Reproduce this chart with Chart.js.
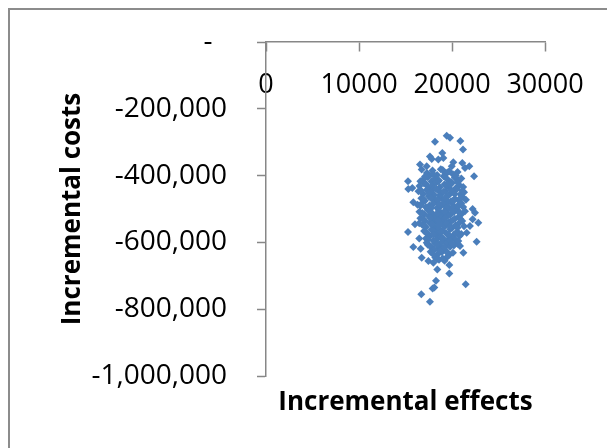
<!DOCTYPE html>
<html>
<head>
<meta charset="utf-8">
<script src="https://cdn.jsdelivr.net/npm/chart.js@4.4.1/dist/chart.umd.min.js"></script>
<style>
  html, body { margin: 0; padding: 0; background: #fff; }
  canvas { display: block; }
</style>
</head>
<body>
<canvas id="ceChart" width="607" height="448"></canvas>
<script>
// ── Data ────────────────────────────────────────────────────

const xTicks = [0, 10000, 20000, 30000];
const yTicks = [0, -200000, -400000, -600000, -800000, -1000000];

// simulated pairs: incremental effects (x) and incremental costs (y)
const effects = [
  17300, 17900, 18400, 18800, 19300, 19700, 20100, 20600, 17600, 19000,
  16900, 17400, 17800, 18200, 18600, 19100, 19500, 19900, 20300, 20700, 21000, 16600,
  16500, 17000, 17500, 17900, 18300, 18700, 19200, 19600, 20000, 20400, 20800, 21200, 18000, 19400,
  16400, 16900, 17300, 17700, 18100, 18500, 18900, 19300, 19700, 20100, 20500, 20900, 21300, 18700, 19900,
  16700, 17100, 17500, 17900, 18300, 18700, 19100, 19500, 19900, 20300, 20700, 21100, 21500, 18000, 19600,
  16300, 16800, 17200, 17600, 18000, 18400, 18800, 19200, 19600, 20000, 20400, 20800, 21200, 17400, 19000, 20200,
  16500, 17000, 17400, 17800, 18200, 18600, 19000, 19400, 19800, 20200, 20600, 21000, 21400, 18900, 19500,
  16600, 17100, 17500, 17900, 18300, 18700, 19100, 19500, 19900, 20300, 20700, 21100, 18100, 19700,
  16800, 17200, 17600, 18000, 18400, 18800, 19200, 19600, 20000, 20400, 20800, 21300, 18600, 19400,
  17000, 17400, 17800, 18200, 18600, 19000, 19400, 19800, 20200, 20600, 21000, 18300,
  17200, 17600, 18000, 18400, 18800, 19200, 19600, 20000, 20400, 20800, 18900,
  17400, 17800, 18200, 18600, 19000, 19400, 19800, 20200, 20600, 18500,
  17700, 18100, 18500, 18900, 19300, 19700, 20100, 19000,
  18200, 18600, 19000, 19500,
  // more of the dense core
  17100, 18000, 19500, 20400, 17200, 18500, 19800, 20600,
  16700, 17500, 18300, 19100, 20300, 21100, 16900, 17700, 18500, 19300, 20100, 20900,
  16600, 17800, 18600, 19400, 20600, 21000, 16800, 17600, 18400, 19200, 20000, 20800,
  16900, 17700, 18500, 19300, 20100, 20900, 17000, 17800, 18600, 19800, 20600,
  17200, 18000, 18800, 19600, 20400, 17400, 18200, 19000, 19800,
  17600, 18400, 19200, 20000, 17900, 18700, 19500, 18400, 19200,
  // edge / outlying points
  19430, 19785, 18170, 20900, 21180, 18960, 17630, 17820, 16560, 21110,
  21860, 22370, 15270, 15300, 15730, 15840, 22220, 22470, 22220, 22830,
  16020, 16480, 15270, 22650, 16480, 15840, 16630, 21220, 16740, 17460,
  19710, 18000, 18420, 19710, 18280, 21470, 17920, 18100, 16700, 17630,
  20140, 19970, 18530, 19070, 17280, 16740, 21400, 20680, 20860, 17280, 21580, 21930
];

const costs = [
  -392000, -385000, -398000, -381000, -394000, -387000, -396000, -389000, -399000, -383000,
  -412000, -405000, -418000, -408000, -415000, -402000, -411000, -419000, -406000, -414000, -409000, -417000,
  -431000, -424000, -437000, -428000, -421000, -435000, -426000, -433000, -422000, -438000, -429000, -434000, -439000, -430000,
  -447000, -455000, -442000, -451000, -458000, -444000, -453000, -446000, -457000, -449000, -441000, -456000, -450000, -459000, -443000,
  -468000, -475000, -462000, -471000, -478000, -465000, -473000, -461000, -477000, -469000, -474000, -463000, -472000, -466000, -479000,
  -487000, -482000, -495000, -489000, -484000, -497000, -491000, -486000, -493000, -481000, -498000, -488000, -494000, -499000, -485000, -492000,
  -508000, -515000, -502000, -511000, -518000, -505000, -513000, -501000, -517000, -509000, -504000, -516000, -507000, -519000, -512000,
  -528000, -535000, -522000, -531000, -538000, -525000, -533000, -521000, -537000, -529000, -524000, -536000, -527000, -539000,
  -547000, -555000, -542000, -551000, -558000, -544000, -553000, -546000, -557000, -549000, -541000, -552000, -559000, -543000,
  -566000, -574000, -562000, -571000, -578000, -565000, -573000, -561000, -577000, -569000, -575000, -579000,
  -588000, -582000, -595000, -589000, -584000, -597000, -591000, -586000, -593000, -581000, -599000,
  -607000, -614000, -602000, -611000, -618000, -605000, -613000, -609000, -604000, -619000,
  -628000, -622000, -635000, -629000, -624000, -637000, -631000, -626000,
  -645000, -652000, -648000, -643000,
  // more of the dense core
  -403000, -396000, -391000, -400000, -425000, -418000, -427000, -420000,
  -445000, -452000, -440000, -448000, -455000, -445000, -470000, -466000, -474000, -467000, -476000, -468000,
  -490000, -496000, -486000, -497000, -491000, -483000, -512000, -506000, -514000, -508000, -503000, -511000,
  -531000, -527000, -534000, -526000, -533000, -530000, -550000, -545000, -548000, -552000, -556000,
  -570000, -576000, -568000, -576000, -572000, -592000, -598000, -587000, -595000,
  -610000, -606000, -615000, -603000, -633000, -626000, -630000, -650000, -655000,
  // edge / outlying points
  -280600, -287000, -299000, -296500, -322000, -332000, -343000, -350000, -367000, -362000,
  -372000, -402000, -417000, -440000, -437000, -480000, -500000, -511000, -531000, -541000,
  -546000, -543000, -569000, -598000, -588000, -614000, -619000, -631000, -646000, -656000,
  -668000, -661000, -681000, -693000, -715000, -725000, -738000, -735000, -755000, -778000,
  -360000, -372000, -352000, -347000, -372000, -382000, -377000, -596000, -611000, -601000, -571000, -551000
];

const xTitle = 'Incremental effects';
const yTitle = 'Incremental costs';

// ── Style ───────────────────────────────────────────────────

const FONT = "'Open Sans', sans-serif";
const AXIS_GREY = '#878787';
const MARKER = '#4A7EBB';

// outer frame of the Excel chart (only left/top edges fall inside the shot)
const chartFrame = {
  id: 'chartFrame',
  beforeDraw(chart) {
    const ctx = chart.ctx;
    ctx.save();
    ctx.fillStyle = '#fff';
    ctx.fillRect(0, 0, chart.width, chart.height);
    ctx.strokeStyle = '#8c8c8c';
    ctx.lineWidth = 2;
    ctx.strokeRect(9, 9, chart.width + 40, chart.height + 40);
    ctx.restore();
  },
};

function noPad(scale) {
  scale.paddingLeft = 0;
  scale.paddingRight = 0;
  scale.paddingTop = 0;
  scale.paddingBottom = 0;
}

const points = effects.map((x, i) => ({ x, y: costs[i] }));

new Chart(document.getElementById('ceChart'), {
  type: 'scatter',
  data: {
    datasets: [{
      data: points,
      pointStyle: 'rectRot',
      pointRadius: 4,
      pointHoverRadius: 4,
      backgroundColor: MARKER,
      borderColor: MARKER,
      borderWidth: 0,
    }],
  },
  options: {
    responsive: false,
    animation: false,
    layout: { padding: { left: 0, top: 42, right: 62, bottom: 0 } },
    plugins: {
      legend: { display: false },
      tooltip: { enabled: false },
    },
    scales: {
      x: {
        type: 'linear',
        position: { y: 0 },
        min: 0,
        max: 30000,
        afterFit: noPad,
        afterBuildTicks: (s) => { s.ticks = xTicks.map(v => ({ value: v })); },
        grid: { drawOnChartArea: false, tickLength: 9, color: AXIS_GREY, tickWidth: 1.5 },
        border: { color: AXIS_GREY, width: 1.5 },
        ticks: {
          color: '#000',
          padding: 18,
          maxRotation: 0,
          font: { family: FONT, size: 27 },
          callback: (v) => String(v),
        },
      },
      xTitle: {
        axis: 'x',
        type: 'linear',
        position: 'bottom',
        min: 0,
        max: 30000,
        afterFit: (s) => { noPad(s); s.height = 72; },
        grid: { display: false },
        border: { display: false },
        ticks: { display: false },
        title: {
          display: true,
          text: xTitle,
          color: '#000',
          padding: { top: 0, bottom: 30 },
          font: { family: FONT, size: 26, weight: 'bold' },
        },
      },
      y: {
        type: 'linear',
        position: 'left',
        min: -1000000,
        max: 0,
        afterFit: (s) => { noPad(s); s.width = 266; },
        afterBuildTicks: (s) => { s.ticks = yTicks.map(v => ({ value: v })); },
        grid: { drawOnChartArea: false, tickLength: 9, color: AXIS_GREY, tickWidth: 1.5 },
        border: { color: AXIS_GREY, width: 1.5 },
        ticks: {
          color: '#000',
          padding: 30,
          font: { family: FONT, size: 28 },
          callback: (v) => (v === 0 ? '-  ' : v.toLocaleString('en-US')),
        },
        title: {
          display: true,
          text: yTitle,
          color: '#000',
          padding: { top: 57, bottom: 0 },
          font: { family: FONT, size: 26, weight: 'bold' },
        },
      },
    },
  },
  plugins: [chartFrame],
});
</script>
</body>
</html>
